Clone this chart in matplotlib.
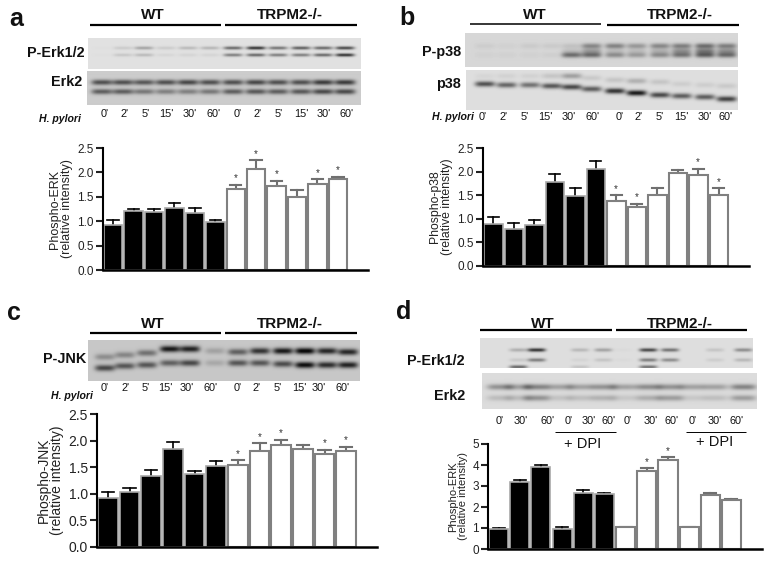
"""Four panel western blot figure: blots on top, bar charts of the band intensity below."""

import numpy as np
import matplotlib
matplotlib.use('Agg')
import matplotlib.pyplot as plt

plt.rcParams['font.family'] = ['Liberation Sans', 'DejaVu Sans']

W, H = 773, 565

times = ["0'", "2'", "5'", "15'", "30'", "60'"] * 2
times_d = ["0'", "30'", "60'"] * 4

# bar heights and the top of their error bars
a_vals = [0.93, 1.20, 1.18, 1.28, 1.16, 0.98, 1.66, 2.07, 1.73, 1.50, 1.77, 1.87]
a_tops = [1.03, 1.26, 1.24, 1.38, 1.27, 1.03, 1.75, 2.25, 1.83, 1.64, 1.86, 1.91]
a_stars = [6, 7, 8, 10, 11]

b_vals = [0.88, 0.78, 0.86, 1.78, 1.48, 2.06, 1.38, 1.25, 1.51, 1.97, 1.92, 1.50]
b_tops = [1.04, 0.91, 0.98, 1.95, 1.65, 2.22, 1.50, 1.32, 1.65, 2.03, 2.06, 1.65]
b_stars = [6, 7, 10, 11]

c_vals = [0.93, 1.03, 1.34, 1.85, 1.37, 1.52, 1.55, 1.80, 1.92, 1.85, 1.75, 1.81]
c_tops = [1.03, 1.11, 1.44, 1.97, 1.43, 1.61, 1.63, 1.95, 2.01, 1.92, 1.83, 1.88]
c_stars = [6, 7, 8, 10, 11]

d_vals = [0.95, 3.20, 3.90, 0.97, 2.65, 2.60, 1.03, 3.70, 4.25, 1.03, 2.55, 2.35]
d_tops = [0.98, 3.28, 4.02, 1.03, 2.83, 2.67, 1.07, 3.85, 4.38, 1.07, 2.65, 2.38]
d_stars = [7, 8]

# band strength per lane (0-1), one list per band
a_perk_up = [.01, .10, .28, .10, .18, .20, .55, .80, .50, .60, .55, .70]
a_perk_lo = [.01, .12, .18, .05, .06, .06, .45, .55, .45, .45, .55, .80]
a_erk_up = [.62, .62, .58, .62, .66, .62, .62, .66, .62, .62, .72, .72]
a_erk_lo = [.55, .55, .42, .38, .38, .42, .55, .58, .55, .58, .65, .65]

b_pp_up = [.05, .03, .06, .06, .10, .38, .40, .30, .38, .42, .50, .42]
b_pp_mid = [.00, .00, .00, .00, .10, .25, .10, .10, .15, .30, .40, .30]
b_pp_lo = [.03, .03, .03, .04, .50, .50, .35, .28, .35, .45, .55, .50]
b_p_up = [.68, .58, .52, .65, .72, .62, .82, .95, .72, .62, .62, .75]
b_p_y = [84, 85, 85, 86, 87, 89, 91, 93, 95, 96, 97, 99]
b_p_smear = [.04, .06, .06, .12, .30, .10, .12, .22, .12, .08, .08, .10]
b_p_smear_y = [76, 76, 76, 76, 76, 78, 80, 81, 82, 84, 85, 86]

c_up = [.28, .32, .42, .85, .80, .18, .50, .72, .85, .95, .78, .78]
c_up_y = [357, 355, 353, 349, 349, 351, 352, 351, 351, 351, 351, 352]
c_lo = [.62, .55, .55, .50, .62, .15, .55, .55, .60, .90, .75, .80]
c_lo_y = [368, 366, 365, 363, 363, 363, 363, 363, 364, 365, 365, 365]

d_up = [.0, .22, .80, .0, .18, .28, .02, .70, .50, .0, .12, .38]
d_mid = [.0, .10, .45, .0, .05, .12, .02, .45, .38, .0, .08, .18]
d_lo = [.0, .55, .0, .0, .12, .0, .0, .50, .0, .0, .0, .0]
d_erk_up = [.35, .28, .42, .28, .28, .35, .28, .38, .35, .28, .28, .42]
d_erk_lo = [.15, .15, .35, .12, .14, .20, .10, .22, .30, .10, .14, .30]

fig = plt.figure(figsize=(W / 100, H / 100), dpi=100)

# overlay in pixel coordinates for the labels and rules
ov = fig.add_axes([0, 0, 1, 1], zorder=5)
ov.set_xlim(0, W)
ov.set_ylim(H, 0)
ov.axis('off')
ov.patch.set_alpha(0)


def blot(x0, x1, y0, y1, centers, bands, bg=0.90, lane_w=9.5, sig=2.0):
    # bands are (y, strengths), y is a pixel row or one pixel row per lane
    ax = fig.add_axes([x0 / W, 1 - y1 / H, (x1 - x0) / W, (y1 - y0) / H], zorder=1)
    xx, yy = np.meshgrid(np.arange(x0, x1) + 0.5, np.arange(y0, y1) + 0.5)
    img = np.full(xx.shape, bg, dtype=float)
    for y, strengths in bands:
        ys = y if np.iterable(y) else [y] * len(strengths)
        for c, s, yc in zip(centers, strengths, ys):
            img -= 0.8 * s * np.exp(-((xx - c) / lane_w) ** 4 - ((yy - yc) / sig) ** 2)
    ax.imshow(np.clip(img, 0.05, 1), cmap='gray', vmin=0, vmax=1, aspect='auto',
              interpolation='bilinear', extent=[x0, x1, y1, y0])
    ax.axis('off')


def bars(x0, x1, y0, ytop, xend, ymax, ticks, vals, tops, stars, ylabel, tick_fs, lab_fs):
    ax = fig.add_axes([x0 / W, 1 - y0 / H, (xend - x0) / W, (y0 - ytop) / H], zorder=2)
    ax.patch.set_alpha(0)
    width = (x1 - x0) / 12
    xs = x0 + width * (np.arange(12) + 0.5)
    for i, (x, v, t) in enumerate(zip(xs, vals, tops)):
        wt = i < 6
        edge = '#a8a8a8' if wt else '#808080'
        ax.bar(x, v, width=width - 2, color='black' if wt else 'white',
               edgecolor=edge, linewidth=1.2 if wt else 1.5, zorder=2)
        col = 'black' if wt else '#707070'
        lw = 1.2 if wt else 1.5
        ax.plot([x, x], [v, t], color=col, lw=lw, zorder=1)
        ax.plot([x - width * 0.28, x + width * 0.28], [t, t], color=col, lw=lw, zorder=1)
        if i in stars:
            ax.text(x, t + ymax * 0.012, '*', ha='center', va='bottom', fontsize=7, color='#333333')
    ax.set_xlim(x0, xend)
    ax.set_ylim(0, ymax)
    ax.set_xticks([])
    ax.set_yticks(ticks)
    ax.set_yticklabels(ticks)
    ax.tick_params(axis='y', length=5, width=1.5, labelsize=tick_fs, pad=1.5, colors='#222222')
    for s in ['top', 'right']:
        ax.spines[s].set_visible(False)
    ax.spines['left'].set_linewidth(1.5)
    ax.spines['bottom'].set_linewidth(1.8)
    ax.set_ylabel(ylabel, fontsize=lab_fs, linespacing=1.0, labelpad=3, color='#222222')


def rule(x0, x1, y, lw=1.6):
    ov.plot([x0, x1], [y, y], color='black', lw=lw, solid_capstyle='butt')


def label(x, y, s, size=10.4, weight='bold', ha='center', style='normal'):
    ov.text(x, y, s, fontsize=size, fontweight=weight, ha=ha, va='center', fontstyle=style, color='#111111')


def time_row(xs, y, labels):
    for x, s in zip(xs, labels):
        label(x, y, s, size=7.8, weight='normal')


# panel a
lanes = np.array([102, 123, 144, 166, 188, 210, 233, 256, 278, 301, 323, 345]) * 1.0
blot(88, 361, 38, 69, lanes, [(48, a_perk_up), (55, a_perk_lo)], bg=0.88, sig=1.7)
blot(87, 361, 71, 105, lanes, [(83, a_erk_up), (92, a_erk_lo)], bg=0.80, lane_w=10.5, sig=2.6)
label(16, 19, 'a', size=18)
label(153, 15, 'WT', size=11)
label(290, 15, 'TRPM2-/-', size=11)
rule(90, 221, 25)
rule(225, 357, 25)
label(85, 53, 'P-Erk1/2', ha='right')
label(82, 82, 'Erk2', ha='right')
time_row(np.array([315, 375, 437, 498, 570, 640, 712, 772, 835, 903, 972, 1040]) / 3, 114, times)
label(81, 119, 'H. pylori', size=7.6, style='italic', ha='right')
bars(103, 348, 270, 148, 368, 2.5, [0.0, 0.5, 1.0, 1.5, 2.0, 2.5], a_vals, a_tops, a_stars,
     'Phospho-ERK\n(relative intensity)', 8.5, 9)

# panel b
lanes = 390 + np.array([285, 350, 420, 485, 545, 605, 675, 740, 810, 875, 945, 1010]) / 3
blot(465, 738, 33, 67, lanes,
     [(46, b_pp_up), (51, b_pp_mid), (55, b_pp_lo)], bg=0.84, lane_w=10, sig=2.8)
blot(466, 738, 70, 110, lanes, [(b_p_smear_y, b_p_smear), (b_p_y, b_p_up)], bg=0.87, lane_w=10, sig=2.8)
label(407, 18, 'b', size=18)
label(535, 15, 'WT', size=11)
label(680, 15, 'TRPM2-/-', size=11)
rule(470, 601, 24, lw=1.1)
rule(607, 739, 24.5)
label(461, 52, 'P-p38', ha='right')
label(461, 84, 'p38', ha='right')
time_row(390 + np.array([277, 342, 403, 465, 535, 607, 690, 745, 808, 875, 945, 1008]) / 3, 117, times)
label(474, 117, 'H. pylori', size=7.6, style='italic', ha='right')
bars(483, 729, 266, 148, 749, 2.5, [0.0, 0.5, 1.0, 1.5, 2.0, 2.5], b_vals, b_tops, b_stars,
     'Phospho-p38\n(relative intensity)', 8.5, 8.8)

# panel c
lanes = np.array([105, 125, 147, 170, 190, 215, 238, 260, 283, 305, 327, 348]) * 1.0
blot(88, 360, 340, 381, lanes, [(c_up_y, c_up), (c_lo_y, c_lo)], bg=0.78, lane_w=10, sig=3.2)
label(14, 313, 'c', size=18)
label(153, 324, 'WT', size=11)
label(290, 324, 'TRPM2-/-', size=11)
rule(90, 221, 333)
rule(225, 357, 333)
label(86, 359, 'P-JNK', ha='right')
time_row(np.array([315, 378, 437, 497, 560, 632, 712, 770, 832, 897, 955, 1027]) / 3, 388, times)
label(93, 396, 'H. pylori', size=7.6, style='italic', ha='right')
bars(97, 357, 547, 414, 377, 2.5, [0.0, 0.5, 1.0, 1.5, 2.0, 2.5], c_vals, c_tops, c_stars,
     'Phospho-JNK\n(relative intensity)', 10, 10)

# panel d
lanes = 390 + np.array([330, 385, 440, 510, 570, 640, 700, 775, 840, 905, 975, 1060]) / 3
blot(480, 753, 338, 368, lanes, [(350, d_up), (360, d_mid), (367, d_lo)], bg=0.87, lane_w=9, sig=1.9)
blot(482, 757, 373, 409, lanes, [(387, d_erk_up), (398, d_erk_lo)], bg=0.86, lane_w=13, sig=3)
label(404, 312, 'd', size=18)
label(543, 324, 'WT', size=11)
label(680, 324, 'TRPM2-/-', size=11)
rule(480, 612, 330)
rule(616, 747, 330)
label(465, 361, 'P-Erk1/2', ha='right')
label(465, 396, 'Erk2', ha='right')
time_row(390 + np.array([330, 393, 472, 535, 597, 657, 713, 783, 845, 907, 975, 1040]) / 3, 421, times_d)
rule(555, 616, 432, lw=0.7)
rule(686, 746, 432, lw=0.7)
label(583, 444, '+ DPI', size=10.5, weight='normal')
label(715, 442, '+ DPI', size=10.5, weight='normal')
bars(488, 742, 549, 444, 762, 5, [0, 1, 2, 3, 4, 5], d_vals, d_tops, d_stars,
     'Phospho-ERK\n(relative intensity)', 8.5, 8)

fig.savefig('out.png', dpi=100)
plt.close(fig)
